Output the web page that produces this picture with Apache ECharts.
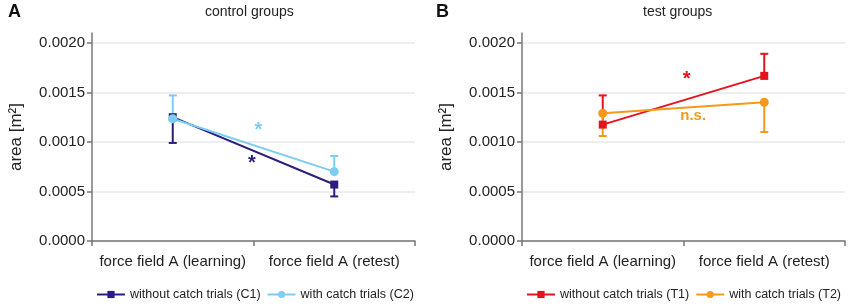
<!DOCTYPE html>
<html>
<head>
<meta charset="utf-8">
<script src="https://cdn.jsdelivr.net/npm/echarts@6/dist/echarts.min.js"></script>
<style>
  html, body { margin: 0; padding: 0; background: #fff; }
  #chart { width: 850px; height: 306px; }
</style>
</head>
<body>
<div id="chart"></div>
<script>
// categories + tick labels
var categories = ['force field A (learning)', 'force field A (retest)'];
var yTicks = [0, 0.0005, 0.0010, 0.0015, 0.0020];

// control groups (means, and end of the one-sided error bars)
var c1Mean = [0.00125, 0.00057];
var c1Err = [0.00099, 0.00045];
var c2Mean = [0.001235, 0.00070];
var c2Err = [0.00147, 0.000858];

// test groups
var t1Mean = [0.001175, 0.001667];
var t1Err = [0.00147, 0.00189];
var t2Mean = [0.00129, 0.00140];
var t2Err = [0.00106, 0.00110];

// significance notes: [category position, value]
var notesA = [[0.53, 0.00112], [0.49, 0.00078]];
var notesAText = ['*', '*'];
var notesB = [[0.52, 0.00163], [0.56, 0.001265]];
var notesBText = ['*', 'n.s.'];

var font = '"Liberation Sans", Arial, sans-serif';
var colC1 = '#2b1d7e', colC2 = '#7dcdf3', colT1 = '#e5131d', colT2 = '#f4991a';

var myChart = echarts.init(document.getElementById('chart'));

function errData(mean, err) {
  return mean.map(function (m, i) { return [i, m, err[i]]; });
}

function errBar(name, idx, mean, err, color) {
  return {
    name: name + ' err',
    type: 'custom',
    xAxisIndex: idx,
    yAxisIndex: idx,
    encode: { x: 0, y: [1, 2] },
    data: errData(mean, err),
    z: 3,
    renderItem: function (params, api) {
      var p0 = api.coord([api.value(0), api.value(1)]);
      var p1 = api.coord([api.value(0), api.value(2)]);
      var w = 4;
      var st = { stroke: color, lineWidth: 2 };
      return {
        type: 'group',
        children: [
          { type: 'line', shape: { x1: p0[0], y1: p0[1], x2: p1[0], y2: p1[1] }, style: st },
          { type: 'line', shape: { x1: p1[0] - w, y1: p1[1], x2: p1[0] + w, y2: p1[1] }, style: st }
        ]
      };
    }
  };
}

function notes(idx, pos, texts, colors, fonts) {
  return {
    name: 'notes' + idx,
    type: 'custom',
    xAxisIndex: idx,
    yAxisIndex: idx,
    data: pos.map(function (p) { return [0, p[1]]; }),
    z: 5,
    renderItem: function (params, api) {
      var p = pos[params.dataIndex];
      var a = api.coord([0, p[1]]);
      var b = api.coord([1, p[1]]);
      return {
        type: 'text',
        x: a[0] + (b[0] - a[0]) * p[0],
        y: a[1],
        style: {
          text: texts[params.dataIndex],
          fill: colors[params.dataIndex],
          font: fonts[params.dataIndex],
          align: 'center',
          verticalAlign: 'middle'
        }
      };
    }
  };
}

function lineSeries(name, idx, data, color, symbol, size) {
  return {
    name: name,
    type: 'line',
    xAxisIndex: idx,
    yAxisIndex: idx,
    data: data,
    symbol: symbol,
    symbolSize: size,
    lineStyle: { width: 2, color: color },
    itemStyle: { color: color },
    z: 4,
    animation: false
  };
}

function xAx(idx) {
  return {
    type: 'category',
    gridIndex: idx,
    data: categories,
    boundaryGap: true,
    axisLine: { lineStyle: { color: '#777', width: 1.5 } },
    axisTick: { show: true, length: 5, lineStyle: { color: '#777', width: 1.5 } },
    axisLabel: { interval: 0, color: '#222', fontSize: 15, fontFamily: font, margin: 13 }
  };
}

function yAx(idx) {
  return {
    type: 'value',
    gridIndex: idx,
    min: 0,
    max: 0.0021,
    interval: 0.0005,
    name: 'area [m²]',
    nameLocation: 'middle',
    nameRotate: 90,
    nameGap: 67,
    nameTextStyle: { color: '#222', fontSize: 17, fontFamily: font },
    axisLine: { show: true, lineStyle: { color: '#777', width: 1.5 } },
    axisTick: { show: true, length: 5, customValues: yTicks, lineStyle: { color: '#777', width: 1.5 } },
    axisLabel: {
      customValues: yTicks,
      color: '#222', fontSize: 15, fontFamily: font, margin: 7,
      formatter: function (v) { return v.toFixed(4); }
    },
    splitLine: { show: true, lineStyle: { color: '#e8e8e8', width: 1.5 } }
  };
}

var legendText = { color: '#222', fontSize: 12.5, fontFamily: font };

var option = {
  animation: false,
  textStyle: { fontFamily: font },
  title: [
    { text: 'A', left: 3, top: -2, textStyle: { fontSize: 18, fontWeight: 'bold', color: '#111', fontFamily: font } },
    { text: 'control groups', left: 200, top: 0, textStyle: { fontSize: 14, fontWeight: 'normal', color: '#222', fontFamily: font } },
    { text: 'B', left: 431, top: -2, textStyle: { fontSize: 18, fontWeight: 'bold', color: '#111', fontFamily: font } },
    { text: 'test groups', left: 638, top: 0, textStyle: { fontSize: 14, fontWeight: 'normal', color: '#222', fontFamily: font } }
  ],
  legend: [
    {
      data: ['without catch trials (C1)', 'with catch trials (C2)'],
      left: 91, top: 283, width: 340, itemWidth: 28, itemHeight: 9, itemGap: 6,
      textStyle: legendText
    },
    {
      data: ['without catch trials (T1)', 'with catch trials (T2)'],
      left: 521, top: 283, width: 340, itemWidth: 28, itemHeight: 9, itemGap: 6,
      textStyle: legendText
    }
  ],
  grid: [
    { left: 92, top: 33, width: 323, height: 208 },
    { left: 522, top: 33, width: 323, height: 208 }
  ],
  xAxis: [xAx(0), xAx(1)],
  yAxis: [yAx(0), yAx(1)],
  series: [
    errBar('C1', 0, c1Mean, c1Err, colC1),
    errBar('C2', 0, c2Mean, c2Err, colC2),
    lineSeries('without catch trials (C1)', 0, c1Mean, colC1, 'rect', 8),
    lineSeries('with catch trials (C2)', 0, c2Mean, colC2, 'circle', 9),
    errBar('T1', 1, t1Mean, t1Err, colT1),
    errBar('T2', 1, t2Mean, t2Err, colT2),
    lineSeries('without catch trials (T1)', 1, t1Mean, colT1, 'rect', 8),
    lineSeries('with catch trials (T2)', 1, t2Mean, colT2, 'circle', 9),
    notes(0, notesA, notesAText, [colC2, colC1], ['bold 20px ' + font, 'bold 20px ' + font]),
    notes(1, notesB, notesBText, [colT1, colT2], ['bold 20px ' + font, 'bold 15px ' + font])
  ]
};

myChart.setOption(option);
</script>
</body>
</html>
